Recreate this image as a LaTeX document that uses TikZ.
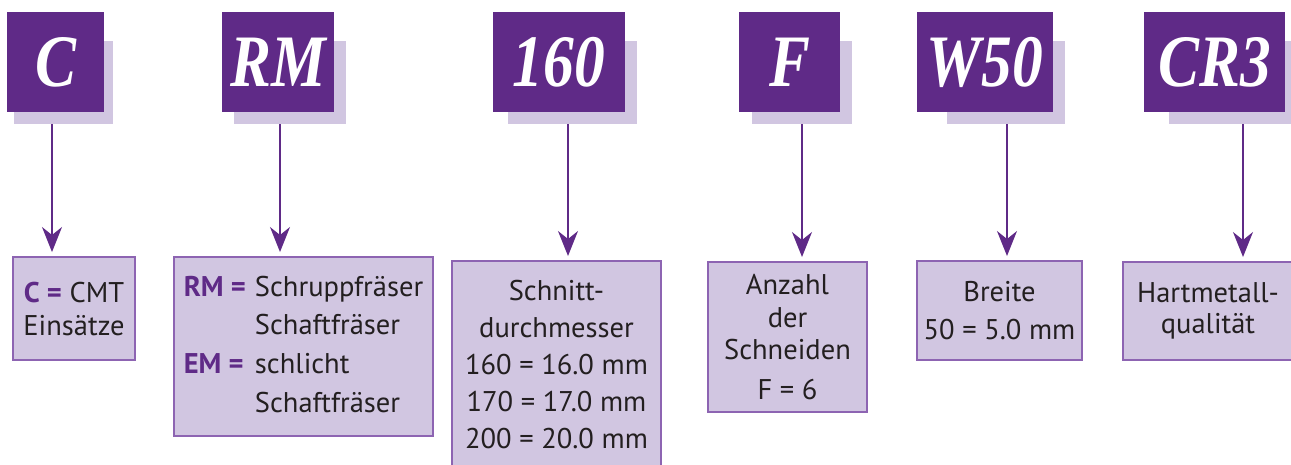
\documentclass[tikz,border=0pt]{standalone}
\usepackage{fontspec}
\usepackage{graphicx}
\setmainfont{PT Sans}
\newfontfamily\codefont{Liberation Serif}
\usetikzlibrary{arrows.meta}
\definecolor{lila}{HTML}{5F2A87}
\definecolor{lilahell}{HTML}{D1C6E1}
\definecolor{lilarand}{HTML}{8D64B2}
\definecolor{schrift}{HTML}{231F20}
\newcommand{\kenn}[1]{\scalebox{0.83}[1]{#1}}
\newcommand{\fett}[1]{\textcolor{lila}{\bfseries #1}}
\tikzset{
  code/.style={fill=lila, text=white, inner sep=0pt, outer sep=0pt, anchor=north west,
    minimum height=100pt, font=\codefont\bfseries\itshape\fontsize{74}{74}\selectfont},
  schatten/.style={fill=lilahell, inner sep=0pt, outer sep=0pt, anchor=north west, minimum height=83pt},
  info/.style={fill=lilahell, draw=lilarand, line width=1.5pt, inner sep=0pt, outer sep=0pt,
    anchor=north west, align=center, text=schrift},
  pfeil/.style={draw=lila, line width=1.5pt, shorten >=5pt,
    -{Stealth[length=25pt,width=20pt,inset=8pt]}},
}
\begin{document}
\begin{tikzpicture}[x=1pt,y=-1pt]
  \useasboundingbox (0,0) rectangle (1291,464);
  % Schatten
  \node[schatten, minimum width=99pt] (sC) at (14,41) {};
  \node[schatten, minimum width=112pt] (sRM) at (234,41) {};
  \node[schatten, minimum width=129pt] (s160) at (508,41) {};
  \node[schatten, minimum width=100pt] (sF) at (752,41) {};
  \node[schatten, minimum width=118pt] (sW) at (947,41) {};
  \node[schatten, minimum width=130pt] (sCR) at (1169,41) {};
  % Kennzeichen
  \node[code, minimum width=97pt] (kC) at (7,12) {\kenn{C}};
  \node[code, minimum width=112pt] (kRM) at (222,12) {\kenn{RM}};
  \node[code, minimum width=132pt] (k160) at (493,12) {\kenn{160}};
  \node[code, minimum width=101pt] (kF) at (739,12) {\kenn{F}};
  \node[code, minimum width=136pt] (kW) at (917,12) {\kenn{W50}};
  \node[code, minimum width=141pt] (kCR) at (1144,12) {\kenn{CR3}};
  % Erklaerungen
  \node[info, minimum width=122pt, minimum height=103pt, font=\fontsize{28.5}{33}\selectfont]
    (bC) at (13,257) {\fett{C =} CMT\\Einsätze};
  \node[info, minimum width=259pt, minimum height=179pt, font=\fontsize{28.5}{33}\selectfont]
    (bRM) at (174,257) {\renewcommand{\arraystretch}{1.17}%
    \begin{tabular}{@{}l@{\hspace{9pt}}l@{}}
      \fett{RM =} & Schruppfräser\\
                  & Schaftfräser\\
      \fett{EM =} & schlicht\\
                  & Schaftfräser
    \end{tabular}};
  \node[info, minimum width=209pt, minimum height=208pt, font=\fontsize{28.5}{37}\selectfont]
    (b160) at (452,261) {Schnitt-\\durchmesser\\160 = 16.0 mm\\170 = 17.0 mm\\200 = 20.0 mm};
  \node[info, minimum width=159pt, minimum height=150pt, font=\fontsize{28.5}{32.5}\selectfont]
    (bF) at (708,262) {Anzahl\\der\\Schneiden\\[7pt]F = 6};
  \node[info, minimum width=165pt, minimum height=99pt, font=\fontsize{28.5}{38}\selectfont]
    (bW) at (917,261) {Breite\\50 = 5.0 mm};
  \node[info, minimum width=170pt, minimum height=98pt, font=\fontsize{28.5}{31}\selectfont]
    (bCR) at (1123,262) {Hartmetall-\\qualität};
  % Pfeile
  \coordinate (aC) at (52,124);
  \coordinate (aRM) at (280,124);
  \coordinate (a160) at (568,124);
  \coordinate (aF) at (802,124);
  \coordinate (aW) at (1007,124);
  \coordinate (aCR) at (1243,124);
  \draw[pfeil] (aC) -- (aC |- bC.north);
  \draw[pfeil] (aRM) -- (aRM |- bRM.north);
  \draw[pfeil] (a160) -- (a160 |- b160.north);
  \draw[pfeil] (aF) -- (aF |- bF.north);
  \draw[pfeil] (aW) -- (aW |- bW.north);
  \draw[pfeil] (aCR) -- (aCR |- bCR.north);
\end{tikzpicture}
\end{document}
